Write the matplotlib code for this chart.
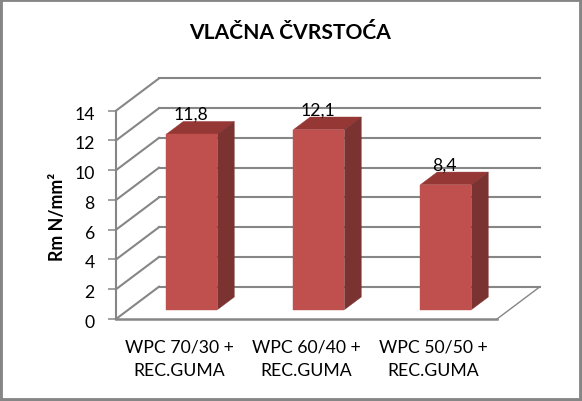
import matplotlib
matplotlib.use("Agg")
import matplotlib.pyplot as plt
from matplotlib.patches import Polygon, Rectangle
from matplotlib.transforms import ScaledTranslation

categories = ["WPC 70/30 +\nREC.GUMA", "WPC 60/40 +\nREC.GUMA", "WPC 50/50 +\nREC.GUMA"]
values = [11.8, 12.1, 8.4]
value_labels = ["11,8", "12,1", "8,4"]
y_ticks = [0, 2, 4, 6, 8, 10, 12, 14]
title = "VLAČNA ČVRSTOĆA"
y_title = "Rm N/mm²"

W, H = 582, 402
GREY = "#868686"
FRONT, TOP, SIDE = "#C0504D", "#953735", "#7A3331"
plt.rcParams["font.family"] = ["Lato", "DejaVu Sans"]

fig = plt.figure(figsize=(W / 100, H / 100), dpi=100, facecolor="white")
# outer frame
fig.add_artist(Rectangle((0, 0), 1, 1, transform=fig.transFigure, fill=False,
                         edgecolor=GREY, linewidth=4.2))

# axes = front plane of the 3D box
L, R, T, B = 116, 497, 111.7, 320
ax = fig.add_axes([L / W, 1 - B / H, (R - L) / W, (B - T) / H])
ax.set_xlim(-0.5, 2.5)
ax.set_ylim(0, 14)
ax.patch.set_visible(False)
for s in ("top", "right", "bottom"):
    ax.spines[s].set_visible(False)
ax.spines["left"].set_color(GREY)
ax.spines["left"].set_linewidth(1.5)

DX = 43 / ((R - L) / 3)       # depth of box in category units
DY = 32.3 / ((B - T) / 14)    # depth of box in value units
D0, D1 = 0.29, 0.68           # bar front/back depth fractions
BW = 51 / ((R - L) / 3)

lw = 1.5
x0, x1 = -0.5, 2.5
for v in y_ticks:
    ax.plot([x0 + DX, x1 + DX], [v + DY, v + DY], color=GREY, lw=lw, zorder=1, clip_on=False)
    ax.plot([x0, x0 + DX], [v, v + DY], color=GREY, lw=lw, zorder=1, clip_on=False)
# floor
ax.plot([x0, x1], [0, 0], color=GREY, lw=lw + 0.3, zorder=1, clip_on=False)
ax.plot([x1, x1 + DX], [0, DY], color=GREY, lw=1.0, zorder=1, clip_on=False)

xs = list(range(len(values)))
ax.bar([x + DX * D0 for x in xs], values, width=BW, bottom=DY * D0, color=FRONT,
       edgecolor=FRONT, linewidth=0.3, zorder=3.2)
ddx, ddy = DX * (D1 - D0), DY * (D1 - D0)
for x, v, lab in zip(xs, values, value_labels):
    xl = x + DX * D0 - BW / 2
    xr = xl + BW
    yb = DY * D0
    yt = yb + v
    ax.add_patch(Polygon([(xl, yt), (xr, yt), (xr + ddx, yt + ddy), (xl + ddx, yt + ddy)],
                         closed=True, facecolor=TOP, edgecolor=TOP, linewidth=0.3, zorder=3))
    ax.add_patch(Polygon([(xr, yb), (xr + ddx, yb + ddy), (xr + ddx, yt + ddy), (xr, yt)],
                         closed=True, facecolor=SIDE, edgecolor=SIDE, linewidth=0.3, zorder=3))
    ax.annotate(lab, (x + DX * D0, yt), xytext=(-1, 14.5), textcoords="offset points",
                ha="center", va="center", fontsize=12.7, color="black", zorder=4,
                annotation_clip=False)

ax.set_yticks(y_ticks)
ax.set_yticklabels([str(v) for v in y_ticks], fontsize=12.7, color="black")
ax.tick_params(axis="y", length=5.8, width=1.1, color=GREY, pad=9.5)
shift = ScaledTranslation(0, -1.5 / 100, fig.dpi_scale_trans)
for t in ax.get_yticklabels():
    t.set_transform(t.get_transform() + shift)
ax.set_xticks(xs)
ax.set_xticklabels(categories, fontsize=12.7, color="black", linespacing=1.6)
ax.tick_params(axis="x", length=0, pad=14)

fig.text(290 / W, 1 - 33 / H, title, ha="center", va="center", fontsize=15.1, fontweight="bold")
fig.text(57 / W, 1 - 217 / H, y_title, ha="center", va="center", rotation=90,
         fontsize=12.8, fontweight="bold")

fig.savefig("out.png", dpi=100)
